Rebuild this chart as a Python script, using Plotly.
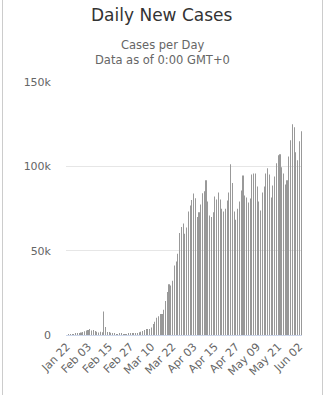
import pandas as pd
import plotly.graph_objects as go

# Daily new cases, Jan 22 - Jun 03
dates = pd.date_range("2020-01-22", "2020-06-03", freq="D")

jan = [0, 100, 200, 300, 400, 1000, 900, 1200, 1500, 1800]
feb = [2200, 2600, 3000, 3600, 2700, 3000, 2400, 2000, 1500, 2000,
       1700, 14000, 4800, 1800, 1800, 1400, 1000, 1000, 200, 200,
       600, 600, 200, 300, 300, 600, 600, 600, 1200]
mar = [1200, 1200, 1600, 2000, 2400, 3000, 3600, 3600, 3600, 4400,
       6500, 7900, 10300, 11100, 12500, 12500, 14900, 20200, 25500, 30100,
       29400, 32200, 41200, 43600, 48200, 60500, 64100, 66100, 60100, 63700,
       73200]
apr = [76800, 80000, 83900, 81100, 70000, 72800, 77400, 84100, 85300, 91700,
       79200, 70800, 70000, 72800, 82100, 80300, 84500, 80300, 74800, 73200,
       74800, 79800, 84500, 101200, 90100, 73200, 68400, 74800, 79200, 85700]
may = [94600, 82700, 81500, 78600, 80900, 95200, 95800, 95800, 88100, 79200,
       73800, 84500, 88100, 95800, 98800, 95200, 81500, 88700, 94000, 101800,
       106500, 107100, 99400, 95800, 89300, 91700, 105900, 115500, 125000, 123200,
       108300]
jun = [103600, 114900, 120800]

daily_cases = jan + feb + mar + apr + may + jun

y_ticks = [0, 50000, 100000, 150000]
y_tick_text = ["0", "50k", "100k", "150k"]

tick_dates = dates[::12]
tick_text = [d.strftime("%b %d") for d in tick_dates]

FONT = "DejaVu Sans"
W, H = 324, 395
ML, MR, MT, MB = 66, 22, 82, 60
PW, PH = W - ML - MR, H - MT - MB


def px_x(px):
    return (px - ML) / PW


def px_y(py):
    return (H - MB - py) / PH


fig = go.Figure()
fig.add_trace(go.Bar(
    x=dates,
    y=daily_cases,
    marker=dict(color="#999999", line=dict(width=0)),
    hoverinfo="x+y",
))

fig.update_layout(
    width=W,
    height=H,
    margin=dict(l=ML, r=MR, t=MT, b=MB, pad=0),
    paper_bgcolor="white",
    plot_bgcolor="white",
    showlegend=False,
    # very thin bars get snapped to whole pixels -> 1px columns
    bargap=0.95,
    font=dict(family=FONT, color="#666666"),
    xaxis=dict(
        type="date",
        range=[dates[0] - pd.Timedelta(hours=12), dates[-1] + pd.Timedelta(hours=12)],
        tickvals=tick_dates,
        ticktext=tick_text,
        tickangle=-45,
        tickfont=dict(family=FONT, size=11, color="#666666"),
        showgrid=False,
        showline=True,
        linecolor="#ccd6eb",
        linewidth=1,
        ticks="",
        zeroline=False,
    ),
    yaxis=dict(
        range=[0, 150000],
        tickvals=y_ticks,
        ticktext=y_tick_text,
        tickfont=dict(family=FONT, size=11, color="#666666"),
        showgrid=True,
        gridcolor="#e6e6e6",
        gridwidth=1,
        zeroline=True,
        zerolinecolor="#ccd6eb",
        zerolinewidth=1,
        ticks="",
        ticklabelstandoff=14,
    ),
    annotations=[
        dict(text="Daily New Cases", x=px_x(162), y=px_y(15), xref="paper", yref="paper",
             xanchor="center", yanchor="middle", showarrow=False,
             font=dict(family=FONT, size=17, color="#333333")),
        dict(text="Cases per Day", x=px_x(162), y=px_y(45), xref="paper", yref="paper",
             xanchor="center", yanchor="middle", showarrow=False,
             font=dict(family=FONT, size=11.5, color="#666666")),
        dict(text="Data as of 0:00 GMT+0", x=px_x(162), y=px_y(60), xref="paper", yref="paper",
             xanchor="center", yanchor="middle", showarrow=False,
             font=dict(family=FONT, size=11.5, color="#666666")),
    ],
    shapes=[
        dict(type="line", xref="paper", yref="paper", x0=px_x(2.5), x1=px_x(2.5),
             y0=px_y(0), y1=px_y(H), line=dict(color="#cccccc", width=1)),
        dict(type="line", xref="paper", yref="paper", x0=px_x(322.5), x1=px_x(322.5),
             y0=px_y(0), y1=px_y(H), line=dict(color="#cccccc", width=1)),
    ],
)

fig.write_html("out.html")
